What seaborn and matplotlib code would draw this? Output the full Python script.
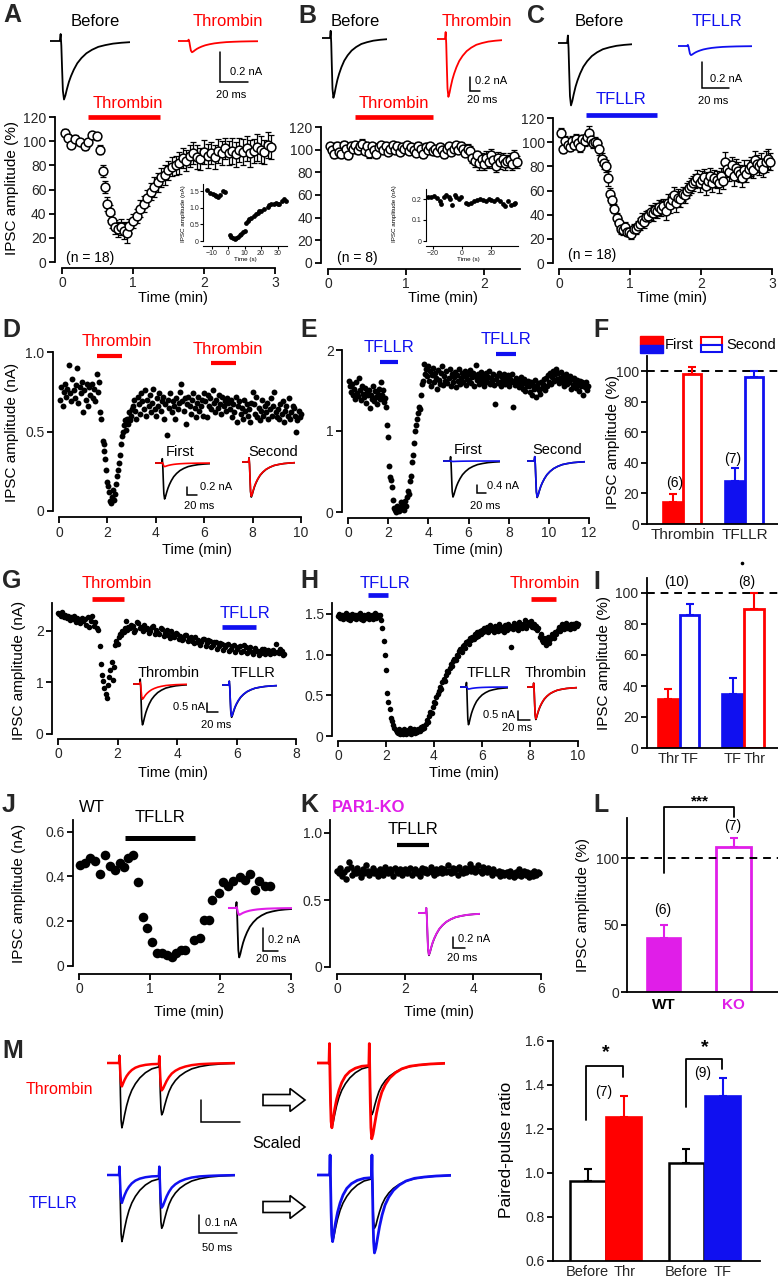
import numpy as np
import matplotlib

matplotlib.use("Agg")
import matplotlib.pyplot as plt
import seaborn as sns
from matplotlib.patches import Rectangle, FancyArrow

sns.set_style("ticks")
plt.rcParams["font.family"] = ["Liberation Sans", "DejaVu Sans"]
plt.rcParams["axes.edgecolor"] = "black"

RED = "#ff0000"
BLUE = "#1010f0"
MAG = "#e01ee8"

# ---------------- data ----------------
# A: thrombin, IPSC amplitude (% of baseline), n = 18
a_time = [0.04, 0.09, 0.13, 0.19, 0.26, 0.33, 0.37, 0.42, 0.49, 0.53,
          0.58, 0.61, 0.64, 0.67, 0.71, 0.75, 0.79, 0.83, 0.87, 0.91, 0.95,
          1.0, 1.05, 1.1, 1.15, 1.2, 1.25, 1.3, 1.35, 1.4, 1.45,
          1.5, 1.55, 1.6, 1.65, 1.7, 1.75, 1.8, 1.85, 1.9, 1.95,
          2.0, 2.05, 2.1, 2.15, 2.2, 2.25, 2.3, 2.35, 2.4, 2.45,
          2.5, 2.55, 2.6, 2.65, 2.7, 2.75, 2.8, 2.85, 2.9, 2.95]
a_amp = [107, 103, 97, 102, 99, 96, 99, 105, 104, 93,
         75, 62, 48, 41, 34, 29, 27, 29, 26, 24, 30,
         34, 38, 44, 48, 53, 58, 62, 66, 70, 72,
         76, 79, 80, 82, 86, 84, 88, 90, 87, 85,
         91, 88, 90, 87, 92, 90, 94, 90, 92, 89,
         93, 91, 94, 90, 92, 95, 93, 91, 97, 95]
a_sem = [3, 3, 2, 3, 2, 3, 2, 3, 3, 4,
         5, 5, 6, 6, 6, 6, 6, 7, 7, 8, 6,
         6, 6, 7, 7, 7, 7, 8, 8, 8, 8,
         8, 8, 8, 9, 8, 9, 9, 9, 10, 9,
         10, 10, 9, 10, 10, 10, 9, 10, 11, 10,
         10, 11, 10, 11, 10, 11, 11, 10, 11, 10]
a_drug = [0.37, 1.38]
a_in_time = [-13, -11, -9, -8, -7, -6, -5, -3, -2, 1, 2, 3, 4, 5, 6, 7, 8, 9, 10,
             11, 12, 13, 14, 16, 17, 18, 19, 20, 22, 24, 25, 26, 28, 29, 30, 31, 33, 34, 35]
a_in_amp = [1.52, 1.45, 1.40, 1.38, 1.35, 1.33, 1.37, 1.50, 1.47,
            0.18, 0.12, 0.08, 0.06, 0.08, 0.12, 0.18, 0.22, 0.28, 0.30,
            0.55, 0.60, 0.65, 0.70, 0.75, 0.80, 0.85, 0.90, 0.90, 0.95,
            1.02, 1.08, 1.10, 1.12, 1.15, 1.12, 1.10, 1.20, 1.25, 1.20]

# B: thrombin, n = 8
b_time = [0.02, 0.05, 0.08, 0.11, 0.14, 0.17, 0.2, 0.23, 0.26, 0.29,
          0.32, 0.35, 0.38, 0.41, 0.44, 0.47, 0.5, 0.53, 0.56, 0.59,
          0.62, 0.65, 0.68, 0.71, 0.74, 0.77, 0.8, 0.83, 0.86, 0.89,
          0.92, 0.95, 0.98, 1.01, 1.04, 1.07, 1.1, 1.13, 1.16, 1.19,
          1.22, 1.25, 1.28, 1.31, 1.34, 1.37, 1.4, 1.43, 1.46, 1.49,
          1.52, 1.55, 1.58, 1.61, 1.64, 1.67, 1.7, 1.73, 1.76, 1.79,
          1.82, 1.85, 1.88, 1.91, 1.94, 1.97, 2.0, 2.03, 2.06, 2.09,
          2.12, 2.15, 2.18, 2.21, 2.24, 2.27, 2.3, 2.33, 2.36, 2.39, 2.42]
b_amp = [103, 100, 96, 103, 98, 96, 104, 101, 95, 103,
         101, 104, 100, 103, 105, 99, 103, 97, 103, 100,
         96, 102, 104, 100, 103, 98, 101, 104, 100, 103,
         98, 102, 101, 104, 99, 102, 100, 97, 103, 101,
         96, 102, 100, 103, 99, 101, 98, 102, 100, 96,
         101, 103, 98, 101, 104, 100, 103, 101, 97, 101,
         99, 93, 90, 95, 88, 92, 87, 93, 89, 95,
         91, 86, 93, 89, 92, 88, 90, 91, 87, 94, 89]
b_sem = [3, 3, 3, 4, 3, 3, 4, 3, 3, 4, 3, 3, 4, 3, 4, 3, 3, 4, 3, 3,
         3, 4, 3, 3, 4, 3, 4, 3, 3, 4, 3, 3, 4, 3, 3, 4, 3, 3, 4, 3,
         3, 4, 3, 3, 4, 3, 3, 4, 3, 3, 4, 3, 3, 4, 3, 3, 4, 3, 3, 4,
         4, 5, 5, 4, 6, 5, 5, 6, 5, 6, 5, 6, 5, 6, 5, 6, 5, 6, 5, 6, 5]
b_drug = [0.35, 1.35]
b_in_time = [-23, -21, -19, -17, -15, -14, -12, -11, -9, -8, -7, -5, -4, -2, -1,
             3, 4, 6, 8, 10, 12, 14, 16, 18, 20, 22, 24, 26, 28, 29, 31, 33, 35, 36]
b_in_amp = [0.21, 0.21, 0.215, 0.205, 0.19, 0.175, 0.21, 0.22, 0.21, 0.20, 0.17, 0.22, 0.21, 0.20, 0.21,
            0.18, 0.175, 0.18, 0.19, 0.195, 0.20, 0.195, 0.19, 0.20, 0.195, 0.19, 0.20, 0.19,
            0.175, 0.165, 0.19, 0.17, 0.175, 0.18]

# C: TFLLR, n = 18
c_time = [0.03, 0.06, 0.09, 0.12, 0.15, 0.18, 0.21, 0.24, 0.27, 0.3,
          0.33, 0.36, 0.39, 0.42, 0.45, 0.48, 0.51, 0.54, 0.57, 0.6,
          0.63, 0.66, 0.69, 0.72, 0.75, 0.78, 0.81, 0.84, 0.87, 0.9,
          0.93, 0.96, 0.99, 1.02, 1.05, 1.08, 1.11, 1.14, 1.17, 1.2,
          1.23, 1.26, 1.29, 1.32, 1.35, 1.38, 1.41, 1.44, 1.47, 1.5,
          1.53, 1.56, 1.59, 1.62, 1.65, 1.68, 1.71, 1.74, 1.77, 1.8,
          1.83, 1.86, 1.89, 1.92, 1.95, 1.98, 2.01, 2.04, 2.07, 2.1,
          2.13, 2.16, 2.19, 2.22, 2.25, 2.28, 2.31, 2.34, 2.37, 2.4,
          2.43, 2.46, 2.49, 2.52, 2.55, 2.58, 2.61, 2.64, 2.67, 2.7,
          2.73, 2.76, 2.79, 2.82, 2.85, 2.88, 2.91, 2.94, 2.97]
c_amp = [108, 94, 101, 98, 96, 101, 98, 103, 99, 96,
         103, 101, 104, 108, 102, 99, 100, 99, 94, 86,
         83, 80, 70, 57, 52, 45, 37, 33, 28, 27,
         30, 26, 26, 24, 28, 28, 31, 32, 36, 34,
         38, 39, 42, 41, 44, 43, 46, 45, 47, 43,
         50, 48, 52, 56, 50, 54, 53, 57, 56, 60,
         62, 64, 66, 68, 70, 66, 69, 71, 64, 68,
         72, 66, 70, 69, 66, 72, 68, 84, 78, 75,
         81, 72, 79, 76, 74, 70, 77, 74, 78, 80,
         77, 85, 82, 80, 83, 78, 84, 86, 84]
c_sem = [4, 3, 4, 3, 3, 4, 3, 4, 3, 4, 3, 4, 4, 5, 4, 4, 4, 4, 5, 5,
         5, 5, 6, 5, 4, 4, 4, 4, 4, 4, 4, 4, 4, 4, 4, 4, 4, 5, 5, 5,
         5, 5, 6, 6, 6, 6, 6, 6, 6, 7, 7, 7, 6, 7, 8, 7, 7, 6, 6, 6,
         6, 6, 6, 6, 7, 7, 7, 7, 8, 7, 7, 7, 7, 7, 8, 7, 7, 8, 7, 7,
         7, 8, 7, 8, 7, 7, 8, 7, 7, 8, 7, 8, 7, 7, 8, 7, 9, 8, 7]
c_drug = [0.38, 1.38]

# D: thrombin applied twice (nA)
d_time = [0.05, 0.1, 0.15, 0.2, 0.25, 0.3, 0.35, 0.4, 0.45, 0.5, 0.55, 0.6, 0.65, 0.7, 0.75, 0.8, 0.85,
          0.9, 0.95, 1.0, 1.05, 1.1, 1.15, 1.2, 1.25, 1.3, 1.35, 1.4, 1.45, 1.5, 1.55, 1.6, 1.65, 1.7, 1.75,
          1.8, 1.84, 1.88, 1.92, 1.96, 2.0, 2.04, 2.08, 2.12, 2.16, 2.2, 2.24, 2.28, 2.32, 2.36, 2.4,
          2.44, 2.48, 2.52, 2.56, 2.6, 2.64, 2.68, 2.72, 2.76, 2.8, 2.84, 2.88, 2.92, 2.96, 3.0,
          3.05, 3.1, 3.15, 3.2, 3.25, 3.3, 3.35, 3.4, 3.45, 3.5, 3.55, 3.6, 3.65, 3.7, 3.75, 3.8, 3.85, 3.9, 3.95, 4.0,
          4.05, 4.1, 4.15, 4.2, 4.25, 4.3, 4.35, 4.4, 4.45, 4.5, 4.55, 4.6, 4.65, 4.7, 4.75, 4.8, 4.85, 4.9, 4.95, 5.0,
          5.05, 5.1, 5.15, 5.2, 5.25, 5.3, 5.35, 5.4, 5.45, 5.5, 5.55, 5.6, 5.65, 5.7, 5.75, 5.8, 5.85, 5.9, 5.95, 6.0,
          6.05, 6.1, 6.15, 6.2, 6.25, 6.3, 6.35, 6.4, 6.45, 6.5, 6.55, 6.6, 6.65, 6.7, 6.75, 6.8, 6.85, 6.9, 6.95, 7.0,
          7.05, 7.1, 7.15, 7.2, 7.25, 7.3, 7.35, 7.4, 7.45, 7.5, 7.55, 7.6, 7.65, 7.7, 7.75, 7.8, 7.85, 7.9, 7.95, 8.0,
          8.05, 8.1, 8.15, 8.2, 8.25, 8.3, 8.35, 8.4, 8.45, 8.5, 8.55, 8.6, 8.65, 8.7, 8.75, 8.8, 8.85, 8.9, 8.95, 9.0,
          9.05, 9.1, 9.15, 9.2, 9.25, 9.3, 9.35, 9.4, 9.45, 9.5, 9.55, 9.6, 9.65, 9.7, 9.75, 9.8, 9.85, 9.9, 9.95, 10.0]
d_amp = [.70, .78, .66, .75, .80, .72, .77, .92, .74, .69, .83, .76, .71, .79, .90, .68, .78,
         .74, .81, .62, .76, .70, .80, .66, .78, .73, .80, .71, .77, .69, .86, .75, .81, .62, .58,
         .44, .42, .38, .33, .26, .18, .16, .12, .06, .05, .09, .13, .07, .11, .17, .22,
         .26, .30, .35, .42, .47, .50, .54, .57, .51, .58, .55, .62, .57, .60, .64,
         .66, .70, .63, .58, .72, .67, .61, .74, .69, .64, .76, .60, .70, .66, .73, .62, .68, .77, .64, .60,
         .71, .66, .74, .63, .69, .72, .58, .67, .48, .70, .65, .74, .62, .69, .66, .58, .71, .64, .68, .75,
         .80, .69, .63, .71, .55, .67, .72, .66, .61, .70, .74, .65, .59, .68, .72, .63, .66, .70, .60, .74,
         .69, .59, .73, .66, .71, .64, .76, .68, .62, .70, .65, .73, .67, .61, .72, .66, .69, .63, .71, .68,
         .64, .70, .59, .67, .62, .72, .56, .66, .69, .61, .65, .58, .70, .63, .67, .60, .64, .56, .68, .75,
         .67, .61, .72, .59, .65, .57, .63, .70, .60, .66, .62, .68, .58, .64, .71, .60, .66, .75, .62, .59,
         .64, .58, .67, .61, .69, .56, .63, .66, .60, .71, .58, .62, .66, .65, .60, .50, .57, .63, .59, .61]
d_drug = [[1.57, 2.6], [6.3, 7.3]]

# E: TFLLR applied twice (nA)
e_time = [0.05, 0.1, 0.15, 0.2, 0.25, 0.3, 0.35, 0.4, 0.45, 0.5, 0.55, 0.6, 0.65, 0.7, 0.75, 0.8, 0.85, 0.9, 0.95,
          1.0, 1.05, 1.1, 1.15, 1.2, 1.25, 1.3, 1.35, 1.4, 1.45, 1.5, 1.55, 1.6, 1.65, 1.7, 1.75, 1.8, 1.85, 1.9,
          1.95, 2.0, 2.05, 2.1, 2.15, 2.2, 2.25, 2.3, 2.35, 2.4, 2.45, 2.5, 2.55, 2.6, 2.65, 2.7, 2.75,
          2.8, 2.85, 2.9, 2.95, 3.0, 3.05, 3.1, 3.15, 3.2, 3.25, 3.3, 3.35, 3.4, 3.45, 3.5, 3.55, 3.6,
          3.65, 3.7, 3.75, 3.8, 3.85, 3.9, 3.95,
          4.0, 4.05, 4.1, 4.15, 4.2, 4.25, 4.3, 4.35, 4.4, 4.45, 4.5, 4.55, 4.6, 4.65, 4.7, 4.75, 4.8, 4.85, 4.9, 4.95,
          5.0, 5.05, 5.1, 5.15, 5.2, 5.25, 5.3, 5.35, 5.4, 5.45, 5.5, 5.55, 5.6, 5.65, 5.7, 5.75, 5.8, 5.85, 5.9, 5.95,
          6.0, 6.05, 6.1, 6.15, 6.2, 6.25, 6.3, 6.35, 6.4, 6.45, 6.5, 6.55, 6.6, 6.65, 6.7, 6.75, 6.8, 6.85, 6.9, 6.95,
          7.0, 7.05, 7.1, 7.15, 7.2, 7.25, 7.3, 7.35, 7.4, 7.45, 7.5, 7.55, 7.6, 7.65, 7.7, 7.75, 7.8, 7.85, 7.9, 7.95,
          8.0, 8.05, 8.1, 8.15, 8.2, 8.25, 8.3, 8.35, 8.4, 8.45, 8.5, 8.55, 8.6, 8.65, 8.7, 8.75, 8.8, 8.85, 8.9, 8.95,
          9.0, 9.05, 9.1, 9.15, 9.2, 9.25, 9.3, 9.35, 9.4, 9.45, 9.5, 9.55, 9.6, 9.65, 9.7, 9.75, 9.8, 9.85, 9.9, 9.95,
          10.0, 10.05, 10.1, 10.15, 10.2, 10.25, 10.3, 10.35, 10.4, 10.45, 10.5, 10.55, 10.6, 10.65, 10.7, 10.75,
          10.8, 10.85, 10.9, 10.95,
          11.0, 11.05, 11.1, 11.15, 11.2, 11.25, 11.3, 11.35, 11.4, 11.45, 11.5, 11.55, 11.6, 11.65, 11.7, 11.75,
          11.8, 11.85, 11.9, 11.95]
e_amp = [1.62, 1.55, 1.48, 1.58, 1.45, 1.52, 1.40, 1.60, 1.47, 1.43, 1.66, 1.50, 1.38, 1.55, 1.46, 1.42, 1.53, 1.35, 1.48,
         1.44, 1.51, 1.28, 1.45, 1.40, 1.55, 1.37, 1.49, 1.42, 1.33, 1.46, 1.52, 1.39, 1.61, 1.44, 1.50, 1.36, 1.41, 1.30,
         1.08, 0.93, 0.57, 0.43, 0.40, 0.31, 0.15, 0.05, 0.02, 0.0, 0.08, 0.03, 0.01, 0.06, 0.12, 0.04, 0.09,
         0.02, 0.14, 0.07, 0.18, 0.26, 0.22, 0.38, 0.45, 0.62, 0.70, 0.85, 1.0, 1.08, 1.15, 1.22, 1.30, 1.27,
         1.45, 1.58, 1.62, 1.83, 1.70, 1.76, 1.68,
         1.80, 1.62, 1.74, 1.55, 1.69, 1.78, 1.60, 1.72, 1.66, 1.52, 1.75, 1.63, 1.58, 1.71, 1.80, 1.57, 1.68, 1.62, 1.74, 1.59,
         1.65, 1.77, 1.56, 1.70, 1.61, 1.67, 1.73, 1.54, 1.69, 1.62, 1.76, 1.58, 1.66, 1.71, 1.60, 1.68, 1.74, 1.57, 1.64, 1.70,
         1.62, 1.75, 1.59, 1.67, 1.72, 1.55, 1.68, 1.81, 1.63, 1.70, 1.58, 1.66, 1.73, 1.61, 1.69, 1.56, 1.64, 1.71, 1.60, 1.67,
         1.74, 1.58, 1.66, 1.62, 1.70, 1.57, 1.33, 1.64, 1.68, 1.59, 1.72, 1.61, 1.55, 1.67, 1.63, 1.70, 1.58, 1.65, 1.61, 1.69,
         1.56, 1.64, 1.60, 1.70, 1.30, 1.62, 1.57, 1.66, 1.59, 1.63, 1.54, 1.61, 1.67, 1.58, 1.52, 1.64, 1.49, 1.60, 1.56, 1.62,
         1.55, 1.48, 1.60, 1.45, 1.57, 1.52, 1.63, 1.42, 1.54, 1.59, 1.50, 1.46, 1.61, 1.53, 1.58, 1.64, 1.51, 1.66, 1.56, 1.69,
         1.60, 1.72, 1.58, 1.67, 1.74, 1.62, 1.70, 1.76, 1.64, 1.71, 1.59, 1.66, 1.73, 1.61, 1.68, 1.55, 1.63, 1.70, 1.58, 1.65,
         1.61, 1.68, 1.52, 1.64, 1.57, 1.66, 1.60, 1.53, 1.63, 1.58, 1.49, 1.62, 1.56, 1.60, 1.45, 1.58, 1.54, 1.61, 1.50, 1.56]
e_drug = [[1.6, 2.5], [7.35, 8.35]]

# F: second application, % of baseline
f_groups = ["Thrombin", "TFLLR"]
f_first = [14.5, 28]
f_first_err = [5, 8.5]
f_second = [98, 96]
f_second_err = [4.5, 4]
f_n = ["(6)", "(7)"]

# G: thrombin then TFLLR (nA)
g_time = [0.0, 0.05, 0.1, 0.15, 0.2, 0.25, 0.3, 0.35, 0.4, 0.45, 0.5, 0.55, 0.6, 0.65, 0.7, 0.75, 0.8, 0.85,
          0.9, 0.95, 1.0, 1.05, 1.1, 1.15, 1.2, 1.25, 1.3, 1.35,
          1.4, 1.44, 1.48, 1.52, 1.56, 1.6, 1.64, 1.68, 1.72, 1.76, 1.8, 1.84, 1.88, 1.92, 1.96, 2.0,
          2.04, 2.08, 2.12, 2.16, 2.2, 2.24, 2.28, 2.32, 2.36,
          2.4, 2.45, 2.5, 2.55, 2.6, 2.65, 2.7, 2.75, 2.8, 2.85, 2.9, 2.95, 3.0, 3.05, 3.1, 3.15, 3.2, 3.25, 3.3, 3.35,
          3.4, 3.45, 3.5, 3.55, 3.6, 3.65, 3.7, 3.75, 3.8, 3.85, 3.9, 3.95, 4.0, 4.05, 4.1, 4.15, 4.2, 4.25, 4.3, 4.35,
          4.4, 4.45, 4.5, 4.55, 4.6, 4.65, 4.7, 4.75, 4.8, 4.85, 4.9, 4.95, 5.0, 5.05, 5.1, 5.15, 5.2, 5.25, 5.3, 5.35,
          5.4, 5.45, 5.5, 5.55, 5.6, 5.65, 5.7, 5.75, 5.8, 5.85, 5.9, 5.95, 6.0, 6.05, 6.1, 6.15, 6.2, 6.25, 6.3, 6.35,
          6.4, 6.45, 6.5, 6.55, 6.6, 6.65, 6.7, 6.75, 6.8, 6.85, 6.9, 6.95, 7.0, 7.05, 7.1, 7.15, 7.2, 7.25, 7.3, 7.35,
          7.4, 7.45, 7.5, 7.55, 7.6]
g_amp = [2.35, 2.33, 2.30, 2.36, 2.28, 2.31, 2.25, 2.29, 2.22, 2.27, 2.24, 2.30, 2.18, 2.26, 2.21, 2.15, 2.25, 2.19,
         2.23, 2.12, 2.28, 2.08, 2.20, 2.30, 2.10, 2.18, 2.05, 2.02,
         1.70, 1.35, 1.15, 1.02, 0.90, 0.78, 0.70, 0.95, 1.10, 1.25, 1.40, 1.05, 1.30, 1.72, 1.80, 1.75,
         1.88, 1.95, 1.92, 2.00, 1.98, 2.05, 2.20, 2.02, 2.08,
         2.05, 2.12, 2.10, 1.98, 2.02, 2.18, 2.15, 2.06, 2.08, 2.00, 2.12, 2.04, 2.05, 1.96, 2.00, 2.08, 2.10, 1.94, 2.02, 1.97,
         1.95, 2.06, 2.03, 1.90, 1.97, 2.01, 1.92, 1.86, 2.00, 1.93, 1.88, 1.96, 1.95, 1.85, 1.90, 1.82, 1.84, 1.93, 1.92, 1.80,
         1.86, 1.89, 1.80, 1.76, 1.88, 1.79, 1.82, 1.73, 1.78, 1.84, 1.85, 1.71, 1.76, 1.82, 1.80, 1.69, 1.72, 1.79, 1.78, 1.66,
         1.70, 1.77, 1.75, 1.64, 1.68, 1.73, 1.74, 1.62, 1.66, 1.71, 1.72, 1.60, 1.65, 1.69, 1.70, 1.59, 1.62, 1.73, 1.68, 1.57,
         1.64, 1.69, 1.60, 1.55, 1.67, 1.62, 1.62, 1.54, 1.58, 1.66, 1.65, 1.56, 1.60, 1.64, 1.55, 1.61, 1.63, 1.57, 1.74, 1.59,
         1.58, 1.65, 1.62, 1.54, 1.55]
g_drug_thr = [1.14, 2.2]
g_drug_tf = [5.5, 6.65]

# H: TFLLR then thrombin (nA)
h_time = [0.0, 0.05, 0.1, 0.15, 0.2, 0.25, 0.3, 0.35, 0.4, 0.45, 0.5, 0.55, 0.6, 0.65, 0.7, 0.75, 0.8, 0.85,
          0.9, 0.95, 1.0, 1.05, 1.1, 1.15, 1.2, 1.25, 1.3, 1.35, 1.4, 1.45, 1.5, 1.55, 1.6, 1.65, 1.7, 1.75,
          1.8, 1.85, 1.9, 1.95, 2.0, 2.05, 2.1, 2.15, 2.2, 2.25, 2.3, 2.35, 2.4, 2.45,
          2.5, 2.55, 2.6, 2.65, 2.7, 2.75, 2.8, 2.85, 2.9, 2.95, 3.0, 3.05, 3.1, 3.15, 3.2, 3.25, 3.3, 3.35, 3.4, 3.45, 3.5,
          3.55, 3.6, 3.65, 3.7, 3.75, 3.8, 3.85, 3.9, 3.95, 4.0, 4.05, 4.1, 4.15, 4.2, 4.25, 4.3, 4.35, 4.4, 4.45, 4.5,
          4.55, 4.6, 4.65, 4.7, 4.75, 4.8, 4.85, 4.9, 4.95, 5.0, 5.05, 5.1, 5.15, 5.2, 5.25, 5.3, 5.35, 5.4, 5.45, 5.5,
          5.55, 5.6, 5.65, 5.7, 5.75, 5.8, 5.85, 5.9, 5.95, 6.0,
          6.05, 6.1, 6.15, 6.2, 6.25, 6.3, 6.35, 6.4, 6.45, 6.5, 6.55, 6.6, 6.65, 6.7, 6.75, 6.8, 6.85, 6.9, 6.95,
          7.0, 7.05, 7.1, 7.15, 7.2, 7.25, 7.3, 7.35, 7.4, 7.45, 7.5, 7.55, 7.6, 7.65, 7.7, 7.75, 7.8, 7.85, 7.9, 7.95,
          8.0, 8.05, 8.1, 8.15, 8.2, 8.25, 8.3, 8.35, 8.4, 8.45, 8.5, 8.55, 8.6, 8.65, 8.7, 8.75, 8.8, 8.85, 8.9, 8.95,
          9.0, 9.05, 9.1, 9.15, 9.2, 9.25, 9.3, 9.35, 9.4, 9.45, 9.5, 9.55, 9.6, 9.65, 9.7, 9.75, 9.8, 9.85, 9.9, 9.95, 10.0]
h_amp = [1.47, 1.50, 1.45, 1.48, 1.43, 1.49, 1.46, 1.51, 1.44, 1.48, 1.42, 1.47, 1.50, 1.45, 1.49, 1.43, 1.48, 1.46,
         1.51, 1.44, 1.47, 1.42, 1.49, 1.45, 1.48, 1.50, 1.43, 1.46, 1.49, 1.44, 1.47, 1.51, 1.45, 1.48, 1.46, 1.49,
         1.42, 1.32, 1.17, 1.0, 0.81, 0.53, 0.42, 0.33, 0.22, 0.18, 0.13, 0.10, 0.07, 0.05,
         0.04, 0.08, 0.02, 0.06, 0.03, 0.09, 0.05, 0.02, 0.07, 0.04, 0.10, 0.03, 0.06, 0.08, 0.04, 0.07, 0.05, 0.09, 0.06, 0.11, 0.08,
         .12, .10, .15, .20, .17, .25, .30, .28, .36, .42, .40, .48, .52, .55, .60, .58, .66, .70, .68, .75,
         .80, .78, .84, .88, .86, .92, .95, .93, 1.00, .98, 1.04, 1.07, 1.03, 1.10, 1.12, 1.08, 1.15, 1.17, 1.13, 1.20,
         1.18, 1.22, 1.19, 1.25, 1.21, 1.27, 1.23, 1.29, 1.25, 1.30,
         1.27, 1.32, 1.29, 1.34, 1.28, 1.31, 1.36, 1.30, 1.33, 1.27, 1.35, 1.31, 1.29, 1.37, 1.32, 1.30, 1.34, 1.28, 1.36,
         1.33, 1.30, 1.38, 1.32, 1.09, 1.35, 1.31, 1.39, 1.33, 1.36, 1.30, 1.40, 1.34, 1.32, 1.38, 1.35, 1.42, 1.33, 1.37, 1.40,
         1.36, 1.41, 1.34, 1.38, 1.32, 1.35, 1.30, 1.33, 1.22, 1.25, 1.18, 1.15, 1.20, 1.12, 1.17, 1.22, 1.14, 1.19, 1.25, 1.22,
         1.20, 1.28, 1.25, 1.30, 1.34, 1.29, 1.33, 1.37, 1.31, 1.35, 1.39, 1.33, 1.36, 1.31, 1.38, 1.34, 1.37, 1.33, 1.39, 1.35, 1.37]
h_drug_tf = [1.25, 2.1]
h_drug_thr = [8.05, 9.1]

# I: cross-desensitisation, % of baseline
i_labels = ["Thr", "TF", "TF", "Thr"]
i_first = [31.5, 34.7]
i_first_err = [6.5, 10.3]
i_second = [85.7, 90]
i_second_err = [7, 10]
i_n = ["(10)", "(8)"]

# J: wild type, TFLLR (nA)
j_time = [0.01, 0.09, 0.16, 0.23, 0.30, 0.37, 0.44, 0.51, 0.58, 0.64,
          0.70, 0.77, 0.83, 0.91, 0.97, 1.03, 1.10, 1.18, 1.25, 1.32,
          1.38, 1.44, 1.51, 1.63, 1.71, 1.77, 1.84, 1.89, 1.98, 2.04,
          2.12, 2.19, 2.28, 2.35, 2.43, 2.49, 2.56, 2.64, 2.71]
j_amp = [.452, .462, .48, .47, .41, .496, .447, .428, .458, .44,
         .48, .496, .373, .218, .17, .108, .059, .056, .049, .041,
         .056, .071, .071, .118, .127, .204, .204, .295, .325, .373,
         .358, .381, .396, .384, .41, .34, .378, .358, .358]
j_drug = [0.65, 1.64]

# K: PAR1-KO, TFLLR (nA)
k_time = [0.0, 0.05, 0.1, 0.15, 0.2, 0.25, 0.3, 0.35, 0.4, 0.45, 0.5, 0.55, 0.6, 0.65, 0.7, 0.75, 0.8, 0.85, 0.9, 0.95,
          1.0, 1.05, 1.1, 1.15, 1.2, 1.25, 1.3, 1.35, 1.4, 1.45, 1.5, 1.55, 1.6, 1.65, 1.7, 1.75, 1.8, 1.85, 1.9, 1.95,
          2.0, 2.05, 2.1, 2.15, 2.2, 2.25, 2.3, 2.35, 2.4, 2.45, 2.5, 2.55, 2.6, 2.65, 2.7, 2.75, 2.8, 2.85, 2.9, 2.95,
          3.0, 3.05, 3.1, 3.15, 3.2, 3.25, 3.3, 3.35, 3.4, 3.45, 3.5, 3.55, 3.6, 3.65, 3.7, 3.75, 3.8, 3.85, 3.9, 3.95,
          4.0, 4.05, 4.1, 4.15, 4.2, 4.25, 4.3, 4.35, 4.4, 4.45, 4.5, 4.55, 4.6, 4.65, 4.7, 4.75, 4.8, 4.85, 4.9, 4.95,
          5.0, 5.05, 5.1, 5.15, 5.2, 5.25, 5.3, 5.35, 5.4, 5.45, 5.5, 5.55, 5.6, 5.65, 5.7, 5.75, 5.8, 5.85, 5.9, 5.95]
k_amp = [.72, .70, .74, .68, .71, .66, .73, .78, .75, .69, .72, .70, .74, .71, .67, .73, .70, .76, .72, .69,
         .71, .74, .70, .72, .68, .73, .71, .69, .75, .72, .70, .73, .71, .68, .74, .72, .70, .73, .69, .71,
         .73, .70, .72, .74, .69, .71, .73, .70, .72, .68, .74, .71, .73, .70, .72, .75, .71, .69, .73, .70,
         .72, .74, .70, .73, .71, .76, .72, .70, .74, .71, .73, .69, .75, .72, .70, .74, .71, .73, .77, .72,
         .74, .71, .73, .76, .72, .70, .75, .73, .71, .74, .72, .69, .73, .71, .70, .72, .68, .71, .69, .70,
         .71, .68, .72, .70, .67, .71, .69, .73, .68, .70, .72, .69, .71, .67, .70, .68, .72, .69, .71, .70]
k_drug = [1.76, 2.7]

# L: WT vs PAR1-KO, % of baseline
l_labels = ["WT", "KO"]
l_amp = [40.3, 108]
l_err = [9.5, 7]
l_n = ["(6)", "(7)"]

# M: paired-pulse ratio
m_labels = ["Before", "Thr", "Before", "TF"]
m_before = [0.965, 1.047]
m_before_err = [0.055, 0.061]
m_after = [1.254, 1.349]
m_after_err = [0.095, 0.084]
m_n = ["(7)", "(9)"]

# example IPSC waveform (ms, normalised) and peak amplitudes (nA)
ipsc_ms = [0, 7, 7.6, 8.1, 8.6, 9.2, 10, 11, 12, 13.5, 15, 17, 19.5, 22.5, 26, 30, 34.5, 39.5, 45, 51, 57]
ipsc_shape = [0, 0, 0.12, -0.08, -0.45, -0.85, -1.0, -0.93, -0.83, -0.7, -0.6, -0.49, -0.38, -0.29,
              -0.21, -0.15, -0.1, -0.07, -0.045, -0.03, -0.02]
pp_ms = [0, 15, 15.6, 16.2, 16.8, 17.6, 18.6, 20, 22, 24.5, 27.5, 31, 35.5, 41, 48, 56,
         64.8, 65.4, 66, 66.6, 67.4, 68.4, 70, 72, 74.5, 77.5, 81, 85.5, 91, 98, 106, 116, 128, 142, 160]
pp_before = [0, 0, 0.12, -0.1, -0.5, -0.88, -1.0, -0.93, -0.8, -0.66, -0.53, -0.42, -0.32, -0.23, -0.15, -0.09,
             -0.06, 0.08, -0.12, -0.45, -0.7, -0.8, -0.76, -0.66, -0.55, -0.44, -0.35, -0.27, -0.2, -0.14,
             -0.09, -0.055, -0.03, -0.015, -0.005]
pp_drug = [0, 0, 0.3, -0.15, -0.55, -0.9, -1.0, -0.88, -0.72, -0.56, -0.42, -0.3, -0.2, -0.13, -0.08, -0.05,
           -0.04, 0.3, -0.15, -0.6, -1.0, -1.17, -1.1, -0.95, -0.77, -0.6, -0.45, -0.33, -0.23, -0.15,
           -0.09, -0.05, -0.03, -0.015, -0.005]

# ---------------- figure ----------------
W, H = 778, 1280
fig = plt.figure(figsize=(W / 100, H / 100), dpi=100)
ov = fig.add_axes([0, 0, 1, 1], zorder=10)
ov.set_xlim(0, W)
ov.set_ylim(H, 0)
ov.axis("off")

TITLE = 12
YLAB = 11


def at(x0, y0, ppx, ppy, xlim, ylim):
    # axes whose data point (0, 0) sits at pixel (x0, y0)
    left = x0 + xlim[0] * ppx
    right = x0 + xlim[1] * ppx
    top = y0 - ylim[1] * ppy
    bottom = y0 - ylim[0] * ppy
    ax = fig.add_axes([left / W, 1 - bottom / H, (right - left) / W, (bottom - top) / H])
    ax.set_xlim(*xlim)
    ax.set_ylim(*ylim)
    ax.patch.set_visible(False)
    return ax


def style(ax, xb, yb, xticks, yticks, xlab=None, ylab=None, size=10, lw=1.3, tl=4):
    sns.despine(ax=ax)
    for s in ["left", "bottom"]:
        ax.spines[s].set_linewidth(lw)
    if yb is not None:
        ax.spines["left"].set_bounds(*yb)
    if xb is not None:
        ax.spines["bottom"].set_bounds(*xb)
    ax.set_xticks(xticks)
    ax.set_yticks(yticks)
    if xlab is not None:
        ax.set_xticklabels(xlab)
    if ylab is not None:
        ax.set_yticklabels(ylab)
    ax.tick_params(direction="out", length=tl, width=lw, labelsize=size, pad=2, color="black")


def txt(x, y, s, size=TITLE, color="black", ha="center", rot=0, weight="normal"):
    ov.text(x, y, s, fontsize=size, color=color, ha=ha, va="center", rotation=rot, fontweight=weight)


def letter(x, y, s):
    ov.text(x, y, s, fontsize=18, fontweight="bold", ha="left", va="baseline")


def sbar(x, y, w, h):
    ov.plot([x, x, x + w], [y - h, y, y], color="black", lw=1.1, solid_joinstyle="miter")


def dots(ax, t, v, s=18):
    n = min(len(t), len(v))
    sns.scatterplot(x=t[:n], y=v[:n], ax=ax, color="black", s=s, linewidth=0, clip_on=False)


def circles(ax, t, v, e):
    n = min(len(t), len(v), len(e))
    ax.errorbar(t[:n], v[:n], yerr=e[:n], fmt="none", ecolor="black", elinewidth=0.9,
                capsize=2, capthick=0.9, zorder=2, clip_on=False)
    sns.scatterplot(x=t[:n], y=v[:n], ax=ax, s=40, facecolor="white", edgecolor="black",
                    linewidth=1.1, zorder=3, clip_on=False)


def drug(ax, span, y, color, lw=3.4):
    ax.plot(span, [y, y], color=color, lw=lw, solid_capstyle="butt", clip_on=False)


def trace(x0, y0, ppx, ppy, t, items):
    big = max(a for _, a, _, _ in items)
    ax = at(x0, y0, ppx, ppy, (t[0], t[-1]), (-1.3 * big, 0.4 * big))
    ax.axis("off")
    for shape, a, color, lw in items:
        sns.lineplot(x=t, y=np.array(shape) * a, color=color, lw=lw, ax=ax, estimator=None)


def ebar(ax, x, top, err, color):
    ax.errorbar([x], [top], yerr=[[0], [err]], fmt="none", ecolor=color, elinewidth=1.5,
                capsize=3, capthick=1.5, clip_on=False)


# ---- A ----
letter(3, 22, "A")
axA = at(62, 262, 71, 145 / 120, (-0.1, 3.1), (-5, 125))
style(axA, (0, 3), (0, 120), [0, 1, 2, 3], list(range(0, 121, 20)))
circles(axA, a_time, a_amp, a_sem)
drug(axA, a_drug, 120, RED)
txt(128, 103, "Thrombin", color=RED)
txt(90, 258, "(n = 18)", size=10)
txt(173, 298, "Time (min)", size=10.5)
txt(12, 188, "IPSC amplitude (%)", size=YLAB, rot=90)
axAi = at(228, 241, 1.65, 33.3, (-15, 36), (-0.15, 1.75))
style(axAi, (-15, 36), (0, 1.7), [-10, 0, 10, 20, 30], [0, 0.5, 1.0, 1.5],
      ylab=["0", "0.5", "1.0", "1.5"], size=5, lw=0.8, tl=2)
axAi.tick_params(pad=1)
dots(axAi, a_in_time, a_in_amp, s=12)
txt(184, 214, "IPSC amplitude (nA)", size=4.5, rot=90)
txt(245, 260, "Time (s)", size=4.5)
txt(95, 21, "Before")
txt(228, 21, "Thrombin", color=RED)
trace(50, 41, 1.4, 150, ipsc_ms, [(ipsc_shape, 0.39, "black", 1.3)])
trace(178, 41, 1.4, 150, ipsc_ms, [(ipsc_shape, 0.075, RED, 1.3)])
sbar(220, 82, 28, 30)
txt(230, 72, "0.2 nA", size=8, ha="left")
txt(231, 95, "20 ms", size=8)

# ---- B ----
letter(298, 23, "B")
axB = at(328, 263, 78, 136 / 120, (-0.09, 2.5), (-5.3, 125))
style(axB, (0, 2.46), (0, 120), [0, 1, 2], list(range(0, 121, 20)))
circles(axB, b_time, b_amp, b_sem)
drug(axB, b_drug, 129, RED)
txt(394, 103, "Thrombin", color=RED)
txt(357, 258, "(n = 8)", size=10)
txt(443, 298, "Time (min)", size=10.5)
axBi = at(462, 241, 1.475, 210, (-24.5, 38), (-0.025, 0.25))
style(axBi, (-24.5, 38), (0, 0.25), [-20, 0, 20], [0, 0.1, 0.2],
      ylab=["0", "0.1", "0.2"], size=5, lw=0.8, tl=2)
axBi.tick_params(pad=1)
dots(axBi, b_in_time, b_in_amp, s=12)
txt(395, 214, "IPSC amplitude (nA)", size=4.5, rot=90)
txt(468, 260, "Time (s)", size=4.5)
txt(355, 21, "Before")
txt(477, 21, "Thrombin", color=RED)
trace(322, 38, 1.14, 65, ipsc_ms, [(ipsc_shape, 0.92, "black", 1.3)])
trace(437, 39, 1.14, 65, ipsc_ms, [(ipsc_shape, 0.89, RED, 1.3)])
sbar(470, 91, 10, 14)
txt(475, 81, "0.2 nA", size=8, ha="left")
txt(482, 100, "20 ms", size=8)

# ---- C ----
letter(527, 23, "C")
axC = at(559, 263, 71, 145 / 120, (-0.085, 3.1), (-5, 125))
style(axC, (0, 3), (0, 120), [0, 1, 2, 3], list(range(0, 121, 20)))
circles(axC, c_time, c_amp, c_sem)
drug(axC, c_drug, 122.5, BLUE)
txt(621, 100, "TFLLR", color=BLUE)
txt(592, 255, "(n = 18)", size=10)
txt(672, 298, "Time (min)", size=10.5)
txt(599, 21, "Before")
txt(717, 21, "TFLLR", color=BLUE)
trace(558, 43, 1.3, 130, ipsc_ms, [(ipsc_shape, 0.48, "black", 1.3)])
trace(678, 46, 1.3, 130, ipsc_ms, [(ipsc_shape, 0.07, BLUE, 1.3)])
sbar(702, 88, 27, 26)
txt(710, 79, "0.2 nA", size=8, ha="left")
txt(713, 101, "20 ms", size=8)

# ---- D ----
letter(2, 337, "D")
axD = at(59, 511, 24.2, 159, (-0.25, 10.3), (-0.04, 1.05))
style(axD, (0, 10), (0, 1.0), list(range(0, 11, 2)), [0, 0.5, 1.0], ylab=["0", "0.5", "1.0"])
dots(axD, d_time, d_amp)
drug(axD, d_drug[0], 0.975, RED, lw=3)
drug(axD, d_drug[1], 0.93, RED, lw=3)
txt(117, 342, "Thrombin", color=RED)
txt(228, 349, "Thrombin", color=RED)
txt(197, 550, "Time (min)", size=10.5)
txt(12, 432, "IPSC amplitude (nA)", size=YLAB, rot=90)
txt(180, 452, "First", size=10.5)
txt(273, 452, "Second", size=10.5)
trace(155, 463, 0.96, 45, ipsc_ms, [(ipsc_shape, 0.8, "black", 1.2), (ipsc_shape, 0.08, RED, 1.2)])
trace(242, 462, 0.93, 45, ipsc_ms, [(ipsc_shape, 0.78, "black", 1.2), (ipsc_shape, 0.76, RED, 1.2)])
sbar(187, 495, 10, 8)
txt(200, 487, "0.2 nA", size=8, ha="left")
txt(199, 506, "20 ms", size=8)

# ---- E ----
letter(300, 337, "E")
axE = at(348, 512, 20.1, 81, (-0.3, 12.2), (-0.074, 2.1))
style(axE, (0, 12), (0, 2), list(range(0, 13, 2)), [0, 1, 2])
dots(axE, e_time, e_amp)
drug(axE, e_drug[0], 1.85, BLUE, lw=3)
drug(axE, e_drug[1], 1.95, BLUE, lw=3)
txt(389, 347, "TFLLR", color=BLUE)
txt(506, 340, "TFLLR", color=BLUE)
txt(468, 550, "Time (min)", size=10.5)
txt(468, 450, "First", size=10.5)
txt(557, 450, "Second", size=10.5)
trace(443, 461, 1.0, 24, ipsc_ms, [(ipsc_shape, 1.5, "black", 1.2), (ipsc_shape, 0.02, BLUE, 1.2)])
trace(527, 461, 1.02, 24, ipsc_ms, [(ipsc_shape, 1.52, "black", 1.2), (ipsc_shape, 1.5, BLUE, 1.2)])
sbar(477, 493, 9, 8)
txt(487, 486, "0.4 nA", size=8, ha="left")
txt(485, 506, "20 ms", size=8)

# ---- F ----
letter(593, 337, "F")
axF = at(682.5, 524, 62, 1.53, (-0.57, 1.55), (0, 112))
style(axF, None, (0, 110), [0, 1], list(range(0, 101, 20)), xlab=f_groups)
axF.tick_params(axis="x", length=0, labelsize=11, pad=3)
axF.axhline(100, color="black", lw=1.4, ls=(0, (4, 3)))
f_col = [RED, BLUE]
for i in range(len(f_groups)):
    axF.bar(i - 0.16, f_first[i], 0.32, color=f_col[i], edgecolor=f_col[i], lw=1.2)
    ebar(axF, i - 0.16, f_first[i], f_first_err[i], f_col[i])
    axF.bar(i + 0.16, f_second[i], 0.29, color="white", edgecolor=f_col[i], lw=2)
    ebar(axF, i + 0.16, f_second[i], f_second_err[i], f_col[i])
txt(675, 483, f_n[0], size=10)
txt(733, 459, f_n[1], size=10)
txt(613, 442, "IPSC amplitude (%)", size=YLAB, rot=90)
ov.add_patch(Rectangle((640, 336), 23, 8.5, fc=RED, ec=RED))
ov.add_patch(Rectangle((640, 344.5), 23, 8.5, fc=BLUE, ec=BLUE))
ov.add_patch(Rectangle((701, 337), 21, 7.5, fc="white", ec=RED, lw=1.5))
ov.add_patch(Rectangle((701, 344.5), 21, 7.5, fc="white", ec=BLUE, lw=1.5))
txt(665, 345, "First", size=10.5, ha="left")
txt(726, 345, "Second", size=10.5, ha="left")

# ---- G ----
letter(2, 588, "G")
axG = at(58, 734, 29.8, 51.5, (-0.2, 8.1), (-0.1, 2.6))
style(axG, (0, 8), (0, 2.55), [0, 2, 4, 6, 8], [0, 1, 2])
dots(axG, g_time, g_amp, s=16)
drug(axG, g_drug_thr, 2.62, RED)
drug(axG, g_drug_tf, 2.08, BLUE)
txt(117, 583, "Thrombin", color=RED)
txt(245, 614, "TFLLR", color=BLUE)
txt(173, 773, "Time (min)", size=10.5)
txt(19, 670, "IPSC amplitude (nA)", size=YLAB, rot=90)
txt(169, 673, "Thrombin", size=10.5)
txt(253, 673, "TFLLR", size=10.5)
trace(133, 684, 0.95, 19, ipsc_ms, [(ipsc_shape, 2.15, "black", 1.2), (ipsc_shape, 0.8, RED, 1.2)])
trace(222, 685, 0.96, 19, ipsc_ms, [(ipsc_shape, 1.7, "black", 1.2), (ipsc_shape, 1.65, BLUE, 1.2)])
sbar(207, 712, 11, 9)
txt(205, 707, "0.5 nA", size=8, ha="right")
txt(216, 725, "20 ms", size=8)

# ---- H ----
letter(300, 588, "H")
axH = at(338, 736, 24, 81.5, (-0.25, 10.2), (-0.06, 1.65))
style(axH, (0, 10), (0, 1.63), list(range(0, 11, 2)), [0, 0.5, 1.0, 1.5],
      ylab=["0", "0.5", "1.0", "1.5"])
dots(axH, h_time, h_amp, s=16)
drug(axH, h_drug_tf, 1.73, BLUE)
drug(axH, h_drug_thr, 1.68, RED)
txt(385, 583, "TFLLR", color=BLUE)
txt(545, 583, "Thrombin", color=RED)
txt(464, 773, "Time (min)", size=10.5)
txt(489, 673, "TFLLR", size=10.5)
txt(556, 673, "Thrombin", size=10.5)
trace(460, 687, 0.85, 26, ipsc_ms, [(ipsc_shape, 1.45, "black", 1.2), (ipsc_shape, 0.08, BLUE, 1.2)])
trace(527, 687, 0.88, 26, ipsc_ms, [(ipsc_shape, 1.25, "black", 1.2), (ipsc_shape, 1.22, RED, 1.2)])
sbar(518, 720, 12, 9)
txt(515, 715, "0.5 nA", size=8, ha="right")
txt(517, 728, "20 ms", size=8)

# ---- I ----
letter(593, 589, "I")
axI = at(679, 748, 64.5, 1.55, (-0.5, 1.53), (0, 112))
style(axI, None, (0, 110), [-0.165, 0.165, 0.835, 1.165], list(range(0, 101, 20)), xlab=i_labels)
axI.tick_params(axis="x", length=0, labelsize=10.5, pad=3)
axI.axhline(100, color="black", lw=1.4, ls=(0, (4, 3)))
i_fcol = [RED, BLUE]
i_scol = [BLUE, RED]
for i in range(2):
    axI.bar(i - 0.165, i_first[i], 0.33, color=i_fcol[i], edgecolor=i_fcol[i], lw=1.2)
    ebar(axI, i - 0.165, i_first[i], i_first_err[i], i_fcol[i])
    axI.bar(i + 0.165, i_second[i], 0.3, color="white", edgecolor=i_scol[i], lw=2)
    ebar(axI, i + 0.165, i_second[i], i_second_err[i], i_scol[i])
txt(677, 582, i_n[0], size=10)
txt(747, 582, i_n[1], size=10)
ov.plot([742], [563], "o", ms=1.6, color="black")
txt(604, 663, "IPSC amplitude (%)", size=YLAB, rot=90)

# ---- J ----
letter(2, 812, "J")
axJ = at(79, 966, 70.5, 224, (-0.085, 3.05), (-0.036, 0.66))
style(axJ, (0, 3), (0, 0.65), [0, 1, 2, 3], [0, 0.2, 0.4, 0.6], ylab=["0", "0.2", "0.4", "0.6"])
dots(axJ, j_time, j_amp, s=48)
drug(axJ, j_drug, 0.571, "black", lw=3.6)
txt(92, 808, "WT")
txt(160, 817, "TFLLR")
txt(189, 1012, "Time (min)", size=10.5)
txt(19, 893, "IPSC amplitude (nA)", size=YLAB, rot=90)
trace(228, 908, 1.12, 115, ipsc_ms, [(ipsc_shape, 0.43, "black", 1.3), (ipsc_shape, 0.06, MAG, 1.5)])
sbar(263, 951, 15, 23)
txt(268, 940, "0.2 nA", size=8, ha="left")
txt(271, 959, "20 ms", size=8)

# ---- K ----
letter(300, 812, "K")
axK = at(337, 967, 34, 134, (-0.2, 6.1), (-0.05, 1.1))
style(axK, (0, 6), (0, 1.1), [0, 2, 4, 6], [0, 0.5, 1.0], ylab=["0", "0.5", "1.0"])
dots(axK, k_time, k_amp, s=22)
drug(axK, k_drug, 0.91, "black", lw=3)
txt(369, 807, "PAR1-KO", color=MAG, weight="bold")
txt(413, 830, "TFLLR")
txt(439, 1012, "Time (min)", size=10.5)
trace(418, 913, 1.09, 55, ipsc_ms, [(ipsc_shape, 0.77, "black", 1.2), (ipsc_shape, 0.76, MAG, 1.4)])
sbar(453, 948, 12, 11)
txt(458, 939, "0.2 nA", size=8, ha="left")
txt(462, 958, "20 ms", size=8)

# ---- L ----
letter(593, 812, "L")
axL = at(664, 992, 69.5, 1.34, (-0.53, 1.64), (0, 130))
style(axL, None, (0, 130), [0, 1], [0, 50, 100], xlab=l_labels)
axL.tick_params(axis="x", length=0, labelsize=11, pad=4)
for lab, c in zip(axL.get_xticklabels(), ["black", MAG]):
    lab.set_color(c)
    lab.set_fontweight("bold")
axL.axhline(100, color="black", lw=1.4, ls=(0, (4, 3)))
axL.bar(0, l_amp[0], 0.49, color=MAG, edgecolor=MAG, lw=1.2)
ebar(axL, 0, l_amp[0], l_err[0], MAG)
axL.bar(1, l_amp[1], 0.5, color="white", edgecolor=MAG, lw=2)
ebar(axL, 1, l_amp[1], l_err[1], MAG)
axL.plot([0, 0, 1, 1], [89, 138, 138, 130.6], color="black", lw=1.3, clip_on=False)
txt(700, 801, "***", size=11, weight="bold")
txt(733, 826, l_n[1], size=10)
txt(663, 910, l_n[0], size=10)
txt(583, 905, "IPSC amplitude (%)", size=YLAB, rot=90)

# ---- M ----
letter(2, 1058, "M")
txt(59, 1090, "Thrombin", size=11.5, color=RED)
txt(53, 1203, "TFLLR", size=11.5, color=BLUE)
txt(277, 1143, "Scaled", size=11.5)
trace(107, 1063, 0.8, 180, pp_ms, [(pp_before, 0.36, "black", 1.2), (pp_drug, 0.13, RED, 1.8)])
trace(317, 1063, 0.8, 180, pp_ms, [(pp_before, 0.36, "black", 1.2), (pp_drug, 0.36, RED, 2.0)])
trace(107, 1175, 0.8, 180, pp_ms, [(pp_before, 0.37, "black", 1.2), (pp_drug, 0.155, BLUE, 1.8)])
trace(317, 1175, 0.84, 180, pp_ms, [(pp_before, 0.37, "black", 1.2), (pp_drug, 0.37, BLUE, 2.0)])
sbar(201, 1122, 39, 22)
sbar(199, 1233, 38, 18)
txt(205, 1223, "0.1 nA", size=8, ha="left")
txt(217, 1248, "50 ms", size=8)
for yy in [1100, 1207]:
    ov.add_patch(FancyArrow(263, yy, 42, 0, width=11, head_width=23, head_length=15,
                            length_includes_head=True, fc="white", ec="black", lw=1.2))

# ratio 0.6 sits at pixel row 1261, 220 px per unit
axM = at(606, 1261 + 0.6 * 220, 98.5, 220, (-0.54, 1.56), (0.6, 1.6))
style(axM, None, None, [-0.185, 0.185, 0.815, 1.185], [0.6, 0.8, 1.0, 1.2, 1.4, 1.6],
      xlab=m_labels, ylab=["0.6", "0.8", "1.0", "1.2", "1.4", "1.6"])
axM.tick_params(axis="x", length=0, labelsize=10.5, pad=3)
m_col = [RED, BLUE]
for i in range(2):
    axM.bar(i - 0.185, m_before[i], 0.36, color="white", edgecolor="black", lw=1.8)
    ebar(axM, i - 0.185, m_before[i], m_before_err[i], "black")
    axM.bar(i + 0.185, m_after[i], 0.37, color=m_col[i], edgecolor=m_col[i], lw=1.2)
    ebar(axM, i + 0.185, m_after[i], m_after_err[i], m_col[i])
axM.plot([-0.2, -0.2, 0.173, 0.173], [1.24, 1.486, 1.486, 1.436], color="black", lw=1.3, clip_on=False)
axM.plot([0.812, 0.812, 1.178, 1.178], [1.30, 1.518, 1.518, 1.473], color="black", lw=1.3, clip_on=False)
txt(606, 1053, "*", size=14, weight="bold")
txt(705, 1048, "*", size=14, weight="bold")
txt(604, 1092, m_n[0], size=10)
txt(703, 1073, m_n[1], size=10)
txt(507, 1150, "Paired-pulse ratio", size=12.5, rot=90)

fig.savefig("out.png", dpi=100)
